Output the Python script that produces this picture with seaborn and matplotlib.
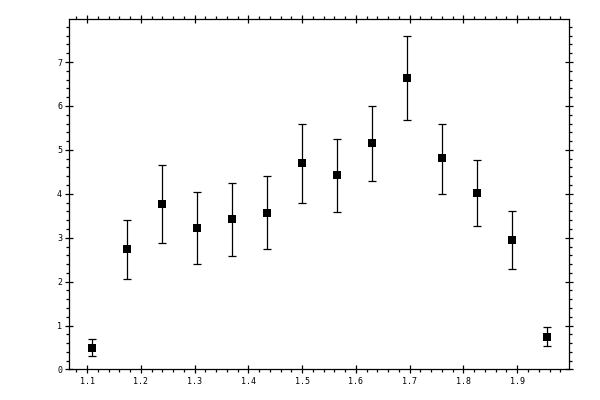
import numpy as np
import pandas as pd
import matplotlib
matplotlib.use("Agg")
import matplotlib.pyplot as plt
from matplotlib.ticker import MultipleLocator
import seaborn as sns

x_vals = [1.11, 1.175, 1.24, 1.305, 1.37, 1.435, 1.5, 1.565, 1.63, 1.695, 1.76, 1.825, 1.89, 1.955]
y_vals = [0.48, 2.74, 3.76, 3.22, 3.42, 3.56, 4.70, 4.42, 5.15, 6.63, 4.81, 4.01, 2.94, 0.73]
y_upper = [0.69, 3.40, 4.65, 4.05, 4.24, 4.41, 5.60, 5.24, 6.00, 7.59, 5.60, 4.77, 3.61, 0.96]
y_lower = [0.30, 2.05, 2.87, 2.40, 2.58, 2.74, 3.79, 3.59, 4.29, 5.68, 3.99, 3.26, 2.28, 0.53]

df = pd.DataFrame({"x": x_vals, "y": y_vals, "hi": y_upper, "lo": y_lower})

sns.set_style("ticks")
plt.rcParams["font.family"] = ["DejaVu Sans Mono", "DejaVu Sans"]

fig = plt.figure(figsize=(6, 4), dpi=100)
ax = fig.add_axes([0.1155, 0.0763, 0.8335, 0.8762])

ax.errorbar(df["x"], df["y"],
            yerr=[df["y"] - df["lo"], df["hi"] - df["y"]],
            fmt="none", ecolor="black", elinewidth=0.9, capsize=2.6, capthick=0.9)
sns.scatterplot(data=df, x="x", y="y", marker="s", s=30, color="black",
                edgecolor="black", linewidth=0, ax=ax, zorder=3)

ax.set_xlim(1.067, 1.997)
ax.set_ylim(0, 7.98)
ax.xaxis.set_major_locator(MultipleLocator(0.1))
ax.xaxis.set_minor_locator(MultipleLocator(0.02))
ax.yaxis.set_major_locator(MultipleLocator(1))
ax.yaxis.set_minor_locator(MultipleLocator(0.2))
ax.xaxis.set_major_formatter(matplotlib.ticker.FormatStrFormatter("%.1f"))
ax.yaxis.set_major_formatter(matplotlib.ticker.FormatStrFormatter("%d"))

ax.tick_params(which="major", direction="inout", length=5.5, width=0.9,
               top=True, right=True, labelsize=6, pad=2.5, color="black", labelcolor="black")
ax.tick_params(which="minor", direction="out", length=2.3, width=0.9,
               top=True, right=True, color="black")
for s in ax.spines.values():
    s.set_visible(True)
    s.set_linewidth(0.9)
    s.set_color("black")

ax.set_xlabel("")
ax.set_ylabel("")
fig.savefig("out.png", dpi=100)
